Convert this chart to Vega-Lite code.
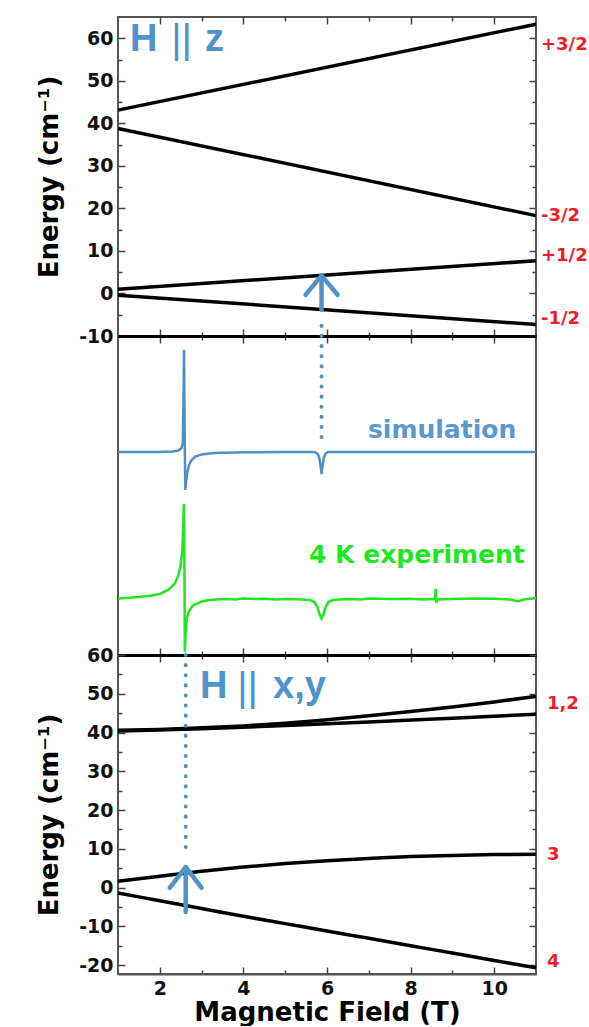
{
  "$schema": "https://vega.github.io/schema/vega-lite/v6.json",
  "background": "white",
  "padding": {"left": 35, "top": 15, "right": 0, "bottom": 0},
  "spacing": 0,
  "bounds": "flush",
  "datasets": {
    "zlev": [
      {"B": 1, "E": 43.1, "level": "+3/2"}, {"B": 11, "E": 63.3, "level": "+3/2"},
      {"B": 1, "E": 38.8, "level": "-3/2"}, {"B": 11, "E": 18.3, "level": "-3/2"},
      {"B": 1, "E": 1.0, "level": "+1/2"}, {"B": 11, "E": 7.7, "level": "+1/2"},
      {"B": 1, "E": -0.4, "level": "-1/2"}, {"B": 11, "E": -7.3, "level": "-1/2"}
    ],
    "zlab": [
      {"B": 11, "E": 58.4, "label": "+3/2"},
      {"B": 11, "E": 18.1, "label": "-3/2"},
      {"B": 11, "E": 8.7, "label": "+1/2"},
      {"B": 11, "E": -6.1, "label": "-1/2"}
    ],
    "xylev": [
      {"B": 1, "E": 40.6, "level": "1"}, {"B": 2, "E": 40.8, "level": "1"}, {"B": 3, "E": 41.2, "level": "1"}, {"B": 4, "E": 41.7, "level": "1"}, {"B": 5, "E": 42.4, "level": "1"}, {"B": 6, "E": 43.3, "level": "1"}, {"B": 7, "E": 44.3, "level": "1"}, {"B": 8, "E": 45.4, "level": "1"}, {"B": 9, "E": 46.6, "level": "1"}, {"B": 10, "E": 47.9, "level": "1"}, {"B": 11, "E": 49.3, "level": "1"},
      {"B": 1, "E": 40.4, "level": "2"}, {"B": 3, "E": 41.0, "level": "2"}, {"B": 5, "E": 41.8, "level": "2"}, {"B": 7, "E": 42.7, "level": "2"}, {"B": 9, "E": 43.7, "level": "2"}, {"B": 11, "E": 44.7, "level": "2"},
      {"B": 1, "E": 1.6, "level": "3"}, {"B": 2, "E": 2.9, "level": "3"}, {"B": 3, "E": 4.2, "level": "3"}, {"B": 4, "E": 5.3, "level": "3"}, {"B": 5, "E": 6.2, "level": "3"}, {"B": 6, "E": 6.9, "level": "3"}, {"B": 7, "E": 7.5, "level": "3"}, {"B": 8, "E": 8.0, "level": "3"}, {"B": 9, "E": 8.3, "level": "3"}, {"B": 10, "E": 8.5, "level": "3"}, {"B": 11, "E": 8.6, "level": "3"},
      {"B": 1, "E": -1.4, "level": "4"}, {"B": 2, "E": -3.4, "level": "4"}, {"B": 3, "E": -5.4, "level": "4"}, {"B": 4, "E": -7.4, "level": "4"}, {"B": 5, "E": -9.3, "level": "4"}, {"B": 6, "E": -11.2, "level": "4"}, {"B": 7, "E": -13.1, "level": "4"}, {"B": 8, "E": -15.0, "level": "4"}, {"B": 9, "E": -16.9, "level": "4"}, {"B": 10, "E": -18.8, "level": "4"}, {"B": 11, "E": -20.7, "level": "4"}
    ],
    "xylab": [
      {"B": 11, "E": 47.4, "label": "1,2"},
      {"B": 11, "E": 8.4, "label": "3"},
      {"B": 11, "E": -19.2, "label": "4"}
    ],
    "sim": [
      {"B": 1.0, "I": 20.3}, {"B": 2.0, "I": 20.3}, {"B": 2.3, "I": 20.35}, {"B": 2.45, "I": 20.45}, {"B": 2.52, "I": 20.7}, {"B": 2.55, "I": 21.3}, {"B": 2.565, "I": 25.0}, {"B": 2.58, "I": 30.5}, {"B": 2.595, "I": 22.0}, {"B": 2.61, "I": 16.5}, {"B": 2.63, "I": 17.4}, {"B": 2.66, "I": 18.3}, {"B": 2.7, "I": 19.0}, {"B": 2.76, "I": 19.5}, {"B": 2.85, "I": 19.85}, {"B": 3.0, "I": 20.05}, {"B": 3.3, "I": 20.2}, {"B": 4.0, "I": 20.28}, {"B": 5.0, "I": 20.3}, {"B": 5.7, "I": 20.3}, {"B": 5.77, "I": 20.15}, {"B": 5.81, "I": 19.8}, {"B": 5.84, "I": 19.1}, {"B": 5.87, "I": 18.1}, {"B": 5.9, "I": 19.1}, {"B": 5.93, "I": 19.8}, {"B": 5.97, "I": 20.15}, {"B": 6.04, "I": 20.3}, {"B": 8.0, "I": 20.3}, {"B": 11.0, "I": 20.3}
    ],
    "exp": [
      {"B": 1.0, "I": 5.65}, {"B": 1.2, "I": 5.7}, {"B": 1.5, "I": 5.8}, {"B": 1.8, "I": 5.95}, {"B": 2.0, "I": 6.1}, {"B": 2.2, "I": 6.5}, {"B": 2.35, "I": 7.1}, {"B": 2.45, "I": 8.0}, {"B": 2.5, "I": 9.0}, {"B": 2.54, "I": 10.5}, {"B": 2.56, "I": 13.0}, {"B": 2.575, "I": 15.1}, {"B": 2.59, "I": 8.0}, {"B": 2.6, "I": 0.3}, {"B": 2.62, "I": 2.5}, {"B": 2.65, "I": 3.7}, {"B": 2.7, "I": 4.4}, {"B": 2.78, "I": 4.9}, {"B": 2.88, "I": 5.15}, {"B": 3.0, "I": 5.35}, {"B": 3.2, "I": 5.5}, {"B": 3.5, "I": 5.6}, {"B": 3.8, "I": 5.55}, {"B": 4.0, "I": 5.65}, {"B": 4.3, "I": 5.6}, {"B": 4.5, "I": 5.62}, {"B": 4.8, "I": 5.55}, {"B": 5.0, "I": 5.6}, {"B": 5.4, "I": 5.55}, {"B": 5.6, "I": 5.5}, {"B": 5.7, "I": 5.3}, {"B": 5.77, "I": 4.8}, {"B": 5.82, "I": 4.1}, {"B": 5.87, "I": 3.65}, {"B": 5.92, "I": 4.1}, {"B": 5.97, "I": 4.8}, {"B": 6.03, "I": 5.3}, {"B": 6.15, "I": 5.5}, {"B": 6.5, "I": 5.6}, {"B": 6.8, "I": 5.55}, {"B": 7.0, "I": 5.65}, {"B": 7.5, "I": 5.6}, {"B": 8.0, "I": 5.62}, {"B": 8.3, "I": 5.55}, {"B": 8.58, "I": 5.6}, {"B": 8.6, "I": 6.6}, {"B": 8.615, "I": 5.2}, {"B": 8.63, "I": 5.55}, {"B": 9.0, "I": 5.6}, {"B": 9.5, "I": 5.65}, {"B": 10.0, "I": 5.62}, {"B": 10.4, "I": 5.55}, {"B": 10.57, "I": 5.35}, {"B": 10.7, "I": 5.55}, {"B": 11.0, "I": 5.7}
    ],
    "specText": [
      {"B": 6.98, "I": 22.5, "label": "simulation", "series": "sim"},
      {"B": 5.57, "I": 10.0, "label": "4 K experiment", "series": "exp"}
    ],
    "zLetters": [{"B": 1.29, "E": 59.6, "label": "H"}, {"B": 3.08, "E": 59.6, "label": "z"}],
    "zBars": [{"B": 2.52, "E": 59.3, "label": "||"}],
    "xyLetters": [{"B": 2.96, "E": 51.7, "label": "H"}, {"B": 4.71, "E": 51.7, "label": "x,y"}],
    "xyBars": [{"B": 4.1, "E": 51.3, "label": "||"}],
    "zDots": [{"B": 5.87, "E": -10, "E2": -5.8}],
    "zShaft": [{"B": 5.87, "E": 4.2, "E2": -3.8}],
    "zTip": [{"B": 5.87, "E": 4.2}],
    "midDots": [{"B": 5.87, "I": 31.9, "I2": 21.0}],
    "xyDots": [{"B": 2.62, "E": 60, "E2": 7.9}],
    "xyShaft": [{"B": 2.62, "E": 5.3, "E2": -6.3}],
    "xyTip": [{"B": 2.62, "E": 5.3}]
  },
  "vconcat": [
    {
      "width": 418,
      "height": 319,
      "layer": [
        {
          "data": {"name": "zlev"},
          "mark": {"type": "line", "color": "#000", "strokeWidth": 3.5},
          "encoding": {
            "x": {"field": "B", "type": "quantitative", "scale": {"domain": [1, 11], "nice": false, "zero": false},
              "axis": {"orient": "bottom", "values": [2, 3, 4, 5, 6, 7, 8, 9, 10], "labels": false, "title": null, "tickSize": {"condition": {"test": "datum.value % 2 === 0", "value": -7}, "value": -4}, "domainColor": "#000", "domainWidth": 3}},
            "y": {"field": "E", "type": "quantitative", "scale": {"domain": [-10, 65], "nice": false, "zero": false},
              "axis": {"orient": "left", "values": [-10, -5, 0, 5, 10, 15, 20, 25, 30, 35, 40, 45, 50, 55, 60], "labelExpr": "datum.value % 10 === 0 ? toString(datum.value) : ''", "tickSize": {"condition": {"test": "datum.value % 10 === 0", "value": -7}, "value": -4}, "labelPadding": 12, "title": "Energy (cm⁻¹)", "titlePadding": 16, "domain": false}},
            "detail": {"field": "level"}
          }
        },
        {
          "data": {"name": "zlab"},
          "mark": {"type": "text", "align": "left", "baseline": "middle", "dx": 5, "font": "DejaVu Sans", "fontWeight": "bold", "fontSize": 18, "color": "#f01c24"},
          "encoding": {
            "x": {"field": "B", "type": "quantitative", "scale": {"domain": [1, 11], "nice": false, "zero": false},
              "axis": {"orient": "top", "values": [2, 3, 4, 5, 6, 7, 8, 9, 10], "labels": false, "title": null, "tickSize": {"condition": {"test": "datum.value % 2 === 0", "value": -7}, "value": -4}, "domain": false}},
            "y": {"field": "E", "type": "quantitative", "scale": {"domain": [-10, 65], "nice": false, "zero": false},
              "axis": {"orient": "right", "values": [-10, -5, 0, 5, 10, 15, 20, 25, 30, 35, 40, 45, 50, 55, 60], "labels": false, "title": null, "tickSize": {"condition": {"test": "datum.value % 10 === 0", "value": -7}, "value": -4}, "domain": false}},
            "text": {"field": "label"}
          }
        },
        {
          "data": {"name": "zLetters"},
          "mark": {"type": "text", "align": "left", "baseline": "middle", "font": "Liberation Sans", "fontWeight": "bold", "fontSize": 38, "color": "#4f93c9"},
          "encoding": {
            "x": {"field": "B", "type": "quantitative", "axis": null},
            "y": {"field": "E", "type": "quantitative", "axis": null},
            "text": {"field": "label"}
          }
        },
        {
          "data": {"name": "zBars"},
          "mark": {"type": "text", "align": "center", "baseline": "middle", "font": "Liberation Sans", "fontWeight": "normal", "fontSize": 40, "color": "#4f93c9"},
          "encoding": {
            "x": {"field": "B", "type": "quantitative", "axis": null},
            "y": {"field": "E", "type": "quantitative", "axis": null},
            "text": {"field": "label"}
          }
        },
        {
          "data": {"name": "zDots"},
          "mark": {"type": "rule", "color": "#5a8fbb", "strokeWidth": 4, "strokeCap": "round", "strokeDash": [0.1, 10]},
          "encoding": {
            "x": {"field": "B", "type": "quantitative", "axis": null},
            "y": {"field": "E", "type": "quantitative", "axis": null},
            "y2": {"field": "E2"}
          }
        },
        {
          "data": {"name": "zShaft"},
          "mark": {"type": "rule", "color": "#4f93c9", "strokeWidth": 4.5, "strokeCap": "round"},
          "encoding": {
            "x": {"field": "B", "type": "quantitative", "axis": null},
            "y": {"field": "E", "type": "quantitative", "axis": null},
            "y2": {"field": "E2"}
          }
        },
        {
          "data": {"name": "zTip"},
          "mark": {"type": "point", "shape": "M-1,1.2L0,0L1,1.2", "size": 1024, "filled": false, "color": "#4f93c9", "strokeWidth": 4.5, "strokeCap": "round", "strokeJoin": "round", "opacity": 1},
          "encoding": {
            "x": {"field": "B", "type": "quantitative", "axis": null},
            "y": {"field": "E", "type": "quantitative", "axis": null}
          }
        }
      ],
      "resolve": {"axis": {"x": "independent", "y": "independent"}}
    },
    {
      "width": 418,
      "height": 319,
      "layer": [
        {
          "data": {"name": "sim"},
          "mark": {"type": "line", "color": "#4f8fc3", "strokeWidth": 2.5},
          "encoding": {
            "x": {"field": "B", "type": "quantitative", "scale": {"domain": [1, 11], "nice": false, "zero": false},
              "axis": {"orient": "bottom", "values": [2, 3, 4, 5, 6, 7, 8, 9, 10], "labels": false, "title": null, "tickSize": {"condition": {"test": "datum.value % 2 === 0", "value": -7}, "value": -4}, "domainColor": "#000", "domainWidth": 3}},
            "y": {"field": "I", "type": "quantitative", "scale": {"domain": [0, 31.9], "nice": false, "zero": false}, "axis": null}
          }
        },
        {
          "data": {"name": "exp"},
          "mark": {"type": "line", "color": "#1ee81e", "strokeWidth": 2.5},
          "encoding": {
            "x": {"field": "B", "type": "quantitative", "scale": {"domain": [1, 11], "nice": false, "zero": false},
              "axis": {"orient": "top", "values": [2, 3, 4, 5, 6, 7, 8, 9, 10], "labels": false, "title": null, "tickSize": {"condition": {"test": "datum.value % 2 === 0", "value": -7}, "value": -4}, "domainColor": "#000", "domainWidth": 3}},
            "y": {"field": "I", "type": "quantitative", "scale": {"domain": [0, 31.9], "nice": false, "zero": false}, "axis": null}
          }
        },
        {
          "data": {"name": "midDots"},
          "mark": {"type": "rule", "color": "#5a8fbb", "strokeWidth": 4, "strokeCap": "round", "strokeDash": [0.1, 10]},
          "encoding": {
            "x": {"field": "B", "type": "quantitative", "axis": null},
            "y": {"field": "I", "type": "quantitative", "axis": null},
            "y2": {"field": "I2"}
          }
        },
        {
          "data": {"name": "specText"},
          "mark": {"type": "text", "align": "left", "baseline": "middle", "font": "DejaVu Sans", "fontWeight": "bold", "fontSize": 25},
          "encoding": {
            "x": {"field": "B", "type": "quantitative", "axis": null},
            "y": {"field": "I", "type": "quantitative", "axis": null},
            "text": {"field": "label"},
            "color": {"field": "series", "type": "nominal", "scale": {"domain": ["sim", "exp"], "range": ["#5b98cb", "#1ee81e"]}, "legend": null}
          }
        }
      ],
      "resolve": {"axis": {"x": "independent", "y": "independent"}}
    },
    {
      "width": 418,
      "height": 319,
      "layer": [
        {
          "data": {"name": "xylev"},
          "mark": {"type": "line", "color": "#000", "strokeWidth": 3.5, "interpolate": "monotone"},
          "encoding": {
            "x": {"field": "B", "type": "quantitative", "scale": {"domain": [1, 11], "nice": false, "zero": false},
              "axis": {"orient": "bottom", "values": [2, 3, 4, 5, 6, 7, 8, 9, 10], "labelExpr": "datum.value % 2 === 0 ? toString(datum.value) : ''", "labelPadding": 12, "tickSize": {"condition": {"test": "datum.value % 2 === 0", "value": -7}, "value": -4}, "title": "Magnetic Field (T)", "titlePadding": 1}},
            "y": {"field": "E", "type": "quantitative", "scale": {"domain": [-22.3, 60], "nice": false, "zero": false},
              "axis": {"orient": "left", "values": [-20, -15, -10, -5, 0, 5, 10, 15, 20, 25, 30, 35, 40, 45, 50, 55, 60], "labelExpr": "datum.value % 10 === 0 ? toString(datum.value) : ''", "tickSize": {"condition": {"test": "datum.value % 10 === 0", "value": -7}, "value": -4}, "labelPadding": 12, "title": "Energy (cm⁻¹)", "titlePadding": 16, "domain": false}},
            "detail": {"field": "level"}
          }
        },
        {
          "data": {"name": "xylab"},
          "mark": {"type": "text", "align": "left", "baseline": "middle", "dx": 11, "font": "DejaVu Sans", "fontWeight": "bold", "fontSize": 18, "color": "#f01c24"},
          "encoding": {
            "x": {"field": "B", "type": "quantitative", "scale": {"domain": [1, 11], "nice": false, "zero": false},
              "axis": {"orient": "top", "values": [2, 3, 4, 5, 6, 7, 8, 9, 10], "labels": false, "title": null, "tickSize": {"condition": {"test": "datum.value % 2 === 0", "value": -7}, "value": -4}, "domainColor": "#000", "domainWidth": 3}},
            "y": {"field": "E", "type": "quantitative", "scale": {"domain": [-22.3, 60], "nice": false, "zero": false},
              "axis": {"orient": "right", "values": [-20, -15, -10, -5, 0, 5, 10, 15, 20, 25, 30, 35, 40, 45, 50, 55, 60], "labels": false, "title": null, "tickSize": {"condition": {"test": "datum.value % 10 === 0", "value": -7}, "value": -4}, "domain": false}},
            "text": {"field": "label"}
          }
        },
        {
          "data": {"name": "xyLetters"},
          "mark": {"type": "text", "align": "left", "baseline": "middle", "font": "Liberation Sans", "fontWeight": "bold", "fontSize": 38, "color": "#4f93c9"},
          "encoding": {
            "x": {"field": "B", "type": "quantitative", "axis": null},
            "y": {"field": "E", "type": "quantitative", "axis": null},
            "text": {"field": "label"}
          }
        },
        {
          "data": {"name": "xyBars"},
          "mark": {"type": "text", "align": "center", "baseline": "middle", "font": "Liberation Sans", "fontWeight": "normal", "fontSize": 40, "color": "#4f93c9"},
          "encoding": {
            "x": {"field": "B", "type": "quantitative", "axis": null},
            "y": {"field": "E", "type": "quantitative", "axis": null},
            "text": {"field": "label"}
          }
        },
        {
          "data": {"name": "xyDots"},
          "mark": {"type": "rule", "color": "#5a8fbb", "strokeWidth": 4, "strokeCap": "round", "strokeDash": [0.1, 10]},
          "encoding": {
            "x": {"field": "B", "type": "quantitative", "axis": null},
            "y": {"field": "E", "type": "quantitative", "axis": null},
            "y2": {"field": "E2"}
          }
        },
        {
          "data": {"name": "xyShaft"},
          "mark": {"type": "rule", "color": "#4f93c9", "strokeWidth": 4.5, "strokeCap": "round"},
          "encoding": {
            "x": {"field": "B", "type": "quantitative", "axis": null},
            "y": {"field": "E", "type": "quantitative", "axis": null},
            "y2": {"field": "E2"}
          }
        },
        {
          "data": {"name": "xyTip"},
          "mark": {"type": "point", "shape": "M-1,1.3L0,0L1,1.3", "size": 1024, "filled": false, "color": "#4f93c9", "strokeWidth": 4.5, "strokeCap": "round", "strokeJoin": "round", "opacity": 1},
          "encoding": {
            "x": {"field": "B", "type": "quantitative", "axis": null},
            "y": {"field": "E", "type": "quantitative", "axis": null}
          }
        }
      ],
      "resolve": {"axis": {"x": "independent", "y": "independent"}}
    }
  ],
  "config": {
    "view": {"stroke": "#555", "strokeWidth": 2},
    "axis": {
      "grid": false,
      "labelFont": "DejaVu Sans", "labelFontWeight": "bold", "labelFontSize": 19, "labelColor": "#111",
      "titleFont": "DejaVu Sans", "titleFontWeight": "bold", "titleFontSize": 26, "titleColor": "#000",
      "tickColor": "#444", "tickWidth": 1.5,
      "domainColor": "#555", "domainWidth": 2
    }
  }
}
